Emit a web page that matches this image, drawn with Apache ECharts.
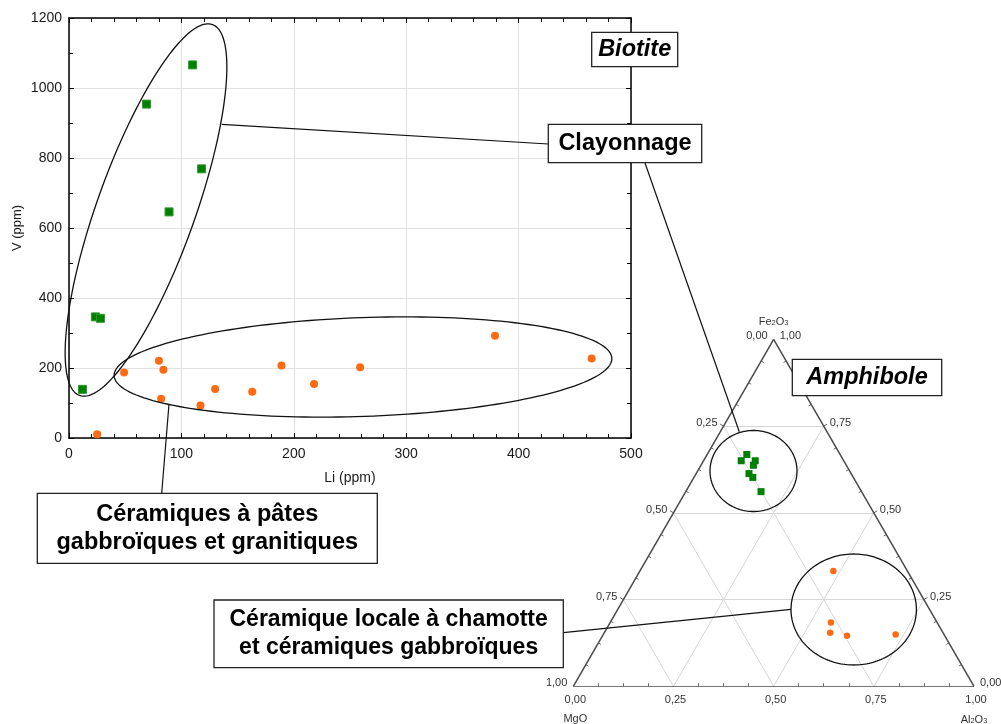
<!DOCTYPE html>
<html>
<head>
<meta charset="utf-8">
<script src="https://cdn.jsdelivr.net/npm/echarts@6/dist/echarts.min.js"></script>
<style>
  html, body { margin: 0; padding: 0; background: #fff; }
  #chart { width: 1001px; height: 724px; }
</style>
</head>
<body>
<div id="chart"></div>
<script>
// ---- Li / V (ppm) : clayonnage samples
const liClay = [110, 69, 118, 89, 23.5, 28, 12];
const vClay  = [1066, 954, 769, 646, 346, 342, 139];
// ---- Li / V (ppm) : céramiques à pâtes gabbroïques et granitiques
const liCer = [25, 49, 80, 84, 82, 117, 130, 163, 189, 218, 259, 379, 465];
const vCer  = [11, 187, 221, 195, 112, 93, 140, 132, 207, 154, 202, 292, 227];

// ---- Amphibole (fractions) : clayonnage
const feClay = [0.668, 0.650, 0.650, 0.637, 0.613, 0.602, 0.561];
const alClay = [0.099, 0.094, 0.129, 0.131, 0.132, 0.147, 0.188];
const mgClay = [0.233, 0.256, 0.221, 0.232, 0.255, 0.251, 0.251];
// ---- Amphibole (fractions) : céramique locale à chamotte et gabbroïques
const feLoc = [0.332, 0.184, 0.154, 0.146, 0.149];
const alLoc = [0.483, 0.551, 0.564, 0.610, 0.730];
const mgLoc = [0.185, 0.265, 0.282, 0.244, 0.121];

// ---- ternary tick values and labels
const ternTicks = [0, 0.25, 0.5, 0.75, 1];
const ternLabels = ['0,00', '0,25', '0,50', '0,75', '1,00'];

const FONT = '"Liberation Sans", Arial, Helvetica, sans-serif';
const SQ3 = Math.sqrt(3) / 2;
const GREEN = '#008000';
const ORANGE = '#ff6a13';

// ternary composition -> plane (x along MgO -> Al2O3, y toward Fe2O3)
function tern(al, fe, mg) {
  const s = al + fe + mg;
  const a = al / s, f = fe / s;
  return [a + f / 2, f * SQ3];
}
const zip = (xs, ys) => xs.map((x, i) => [x, ys[i]]);

// triangle outline, reference lines and edge ticks, in plane units
const outline = [
  { coords: [[0, 0], [1, 0]] },
  { coords: [[0, 0], [0.5, SQ3]] },
  { coords: [[1, 0], [0.5, SQ3]] }
];
const refLines = [];
[0.25, 0.5, 0.75].forEach(v => {
  refLines.push({ coords: [tern(0, v, 1 - v), tern(1 - v, v, 0)] });   // constant Fe2O3
  refLines.push({ coords: [tern(v, 0, 1 - v), tern(v, 1 - v, 0)] });   // constant Al2O3
  refLines.push({ coords: [tern(1 - v, 0, v), tern(0, 1 - v, v)] });   // constant MgO
});
const PX = 1 / 401;
const edgeTicks = [];
for (let k = 1; k < 16; k++) {
  const t = k / 16;
  const major = k % 4 === 0;
  const len = (major ? 4 : 3) * PX;
  const sgn = major ? -1 : 1; // majors point outward, minors inward
  let p = [t, 0];
  edgeTicks.push({ coords: [p, [p[0], p[1] + sgn * len]] });
  p = [t / 2, t * SQ3];
  edgeTicks.push({ coords: [p, [p[0] + sgn * 0.866 * len, p[1] - sgn * 0.5 * len]] });
  p = [1 - t / 2, t * SQ3];
  edgeTicks.push({ coords: [p, [p[0] - sgn * 0.866 * len, p[1] - sgn * 0.5 * len]] });
}

const chart = echarts.init(document.getElementById('chart'));

const axisTextStyle = { color: '#1a1a1a', fontSize: 14, fontFamily: FONT, formatter: v => String(v) };
const frameLine = { show: true, onZero: false, lineStyle: { color: '#000', width: 1.5 } };
const majorTick = { show: true, inside: true, length: 5, lineStyle: { color: '#000', width: 1 } };
const minorX = { show: true, splitNumber: 5, length: 4, lineStyle: { color: '#000', width: 1 } };
const minorY = { show: true, splitNumber: 2, length: 4, lineStyle: { color: '#000', width: 1 } };

chart.setOption({
  animation: false,
  backgroundColor: '#fff',
  grid: [
    { left: 69, top: 18, width: 562, height: 420, containLabel: false, outerBoundsMode: 'none' },
    { left: 573.3, top: 339.3, width: 400.7, height: 347, containLabel: false, outerBoundsMode: 'none' }
  ],
  xAxis: [
    {
      gridIndex: 0, type: 'value', min: 0, max: 500, interval: 100, position: 'bottom',
      name: 'Li (ppm)', nameLocation: 'middle', nameGap: 33, nameMoveOverlap: false,
      nameTextStyle: { color: '#1a1a1a', fontSize: 14, fontFamily: FONT },
      axisLine: frameLine, axisTick: majorTick, minorTick: minorX,
      axisLabel: Object.assign({ margin: 9 }, axisTextStyle),
      splitLine: { show: true, lineStyle: { color: '#e2e2e2', width: 1 } },
      minorSplitLine: { show: false }
    },
    {
      gridIndex: 0, type: 'value', min: 0, max: 500, interval: 100, position: 'top',
      axisLine: frameLine, axisTick: majorTick, minorTick: minorX,
      axisLabel: { show: false }, splitLine: { show: false }
    },
    { gridIndex: 1, type: 'value', min: 0, max: 1, show: false, splitLine: { show: false } }
  ],
  yAxis: [
    {
      gridIndex: 0, type: 'value', min: 0, max: 1200, interval: 200, position: 'left',
      name: 'V (ppm)', nameLocation: 'middle', nameGap: 45, nameRotate: 90, nameMoveOverlap: false,
      nameTextStyle: { color: '#1a1a1a', fontSize: 13, fontFamily: FONT },
      axisLine: frameLine, axisTick: majorTick, minorTick: minorY,
      axisLabel: Object.assign({ margin: 7 }, axisTextStyle),
      splitLine: { show: true, lineStyle: { color: '#e2e2e2', width: 1 } }
    },
    {
      gridIndex: 0, type: 'value', min: 0, max: 1200, interval: 200, position: 'right',
      axisLine: frameLine, axisTick: majorTick, minorTick: minorY,
      axisLabel: { show: false }, splitLine: { show: false }
    },
    { gridIndex: 1, type: 'value', min: 0, max: SQ3, show: false, splitLine: { show: false } }
  ],
  series: [
    {
      name: 'Clayonnage', type: 'scatter', xAxisIndex: 0, yAxisIndex: 0,
      symbol: 'rect', symbolSize: 8,
      itemStyle: { color: GREEN, borderColor: '#2f9a2f', borderWidth: 1, opacity: 1 },
      data: zip(liClay, vClay), z: 5
    },
    {
      name: 'Céramiques', type: 'scatter', xAxisIndex: 0, yAxisIndex: 0,
      symbol: 'circle', symbolSize: 8,
      itemStyle: { color: ORANGE, opacity: 1 },
      data: zip(liCer, vCer), z: 5
    },
    {
      type: 'lines', coordinateSystem: 'cartesian2d', xAxisIndex: 2, yAxisIndex: 2,
      polyline: false, silent: true, z: 1,
      lineStyle: { color: '#d6d6d6', width: 1, opacity: 1 },
      data: refLines
    },
    {
      type: 'lines', coordinateSystem: 'cartesian2d', xAxisIndex: 2, yAxisIndex: 2,
      polyline: false, silent: true, z: 2,
      lineStyle: { color: '#666', width: 1, opacity: 1 },
      data: edgeTicks
    },
    {
      type: 'lines', coordinateSystem: 'cartesian2d', xAxisIndex: 2, yAxisIndex: 2,
      polyline: false, silent: true, z: 3,
      lineStyle: { color: '#4a4a4a', width: 1.5, opacity: 1 },
      data: outline
    },
    {
      name: 'Clayonnage (amphibole)', type: 'scatter', xAxisIndex: 2, yAxisIndex: 2,
      symbol: 'rect', symbolSize: 7,
      itemStyle: { color: GREEN, opacity: 1 },
      data: feClay.map((f, i) => tern(alClay[i], f, mgClay[i])), z: 5
    },
    {
      name: 'Céramique locale (amphibole)', type: 'scatter', xAxisIndex: 2, yAxisIndex: 2,
      symbol: 'circle', symbolSize: 6.5,
      itemStyle: { color: ORANGE, opacity: 1 },
      data: feLoc.map((f, i) => tern(alLoc[i], f, mgLoc[i])), z: 5
    }
  ]
});

// ---- annotation layer: ternary labels, group ellipses, captions and leaders
const toPx = p => chart.convertToPixel({ gridIndex: 1 }, p);
const g = [];
const smallText = { fontSize: 11, fontFamily: FONT, fill: '#333' };

ternTicks.forEach((v, i) => {
  let p = toPx(tern(0, 1 - v, v));          // left edge: MgO
  g.push({ type: 'text', z: 20, x: p[0] - 6, y: p[1] - 3,
    style: Object.assign({ text: ternLabels[i], align: 'right', verticalAlign: 'middle' }, smallText) });
  p = toPx(tern(1 - v, v, 0));              // right edge: Fe2O3
  g.push({ type: 'text', z: 20, x: p[0] + 6, y: p[1] - 3,
    style: Object.assign({ text: ternLabels[i], align: 'left', verticalAlign: 'middle' }, smallText) });
  p = toPx(tern(v, 0, 1 - v));              // base: Al2O3
  g.push({ type: 'text', z: 20, x: p[0] + 2, y: p[1] + 14,
    style: Object.assign({ text: ternLabels[i], align: 'center', verticalAlign: 'middle' }, smallText) });
});

function compLabel(parts, p, dx, dy) {
  const rich = {
    n: { fontSize: 11, fontFamily: FONT, fill: '#333', lineHeight: 14, verticalAlign: 'bottom' },
    s: { fontSize: 7.5, fontFamily: FONT, fill: '#333', lineHeight: 11, verticalAlign: 'bottom' }
  };
  g.push({ type: 'text', z: 20, x: p[0] + dx, y: p[1] + dy,
    style: { text: parts, rich: rich, align: 'center', verticalAlign: 'middle' } });
}
compLabel('{n|Fe}{s|2}{n|O}{s|3}', toPx(tern(0, 1, 0)), 0, -19);
compLabel('{n|MgO}', toPx(tern(0, 0, 1)), 2, 31);
compLabel('{n|Al}{s|2}{n|O}{s|3}', toPx(tern(1, 0, 0)), 0, 32);

function ellipse(cx, cy, a, b, deg) {
  const th = deg * Math.PI / 180;
  const ux = Math.cos(th), uy = -Math.sin(th);
  const vx = Math.sin(th), vy = Math.cos(th);
  const pts = [];
  for (let k = 0; k < 180; k++) {
    const t = 2 * Math.PI * k / 180;
    const ca = a * Math.cos(t), sb = b * Math.sin(t);
    pts.push([cx + ca * ux + sb * vx, cy + ca * uy + sb * vy]);
  }
  return { type: 'polygon', z: 30, silent: true, shape: { points: pts },
    style: { fill: 'none', stroke: '#111', lineWidth: 1.3 } };
}
g.push(ellipse(146, 210, 197, 49, 70.3));
g.push(ellipse(363, 367, 249, 49.4, 2));
g.push(ellipse(753.5, 471, 43.5, 40.5, 0));
g.push(ellipse(853.7, 609.5, 62.7, 55.5, 0));

function leader(x1, y1, x2, y2) {
  g.push({ type: 'line', z: 30, silent: true, shape: { x1, y1, x2, y2 },
    style: { stroke: '#111', lineWidth: 1.2 } });
}
leader(221.7, 124.3, 548.3, 144);
leader(645, 163, 739.3, 431.7);
leader(169, 404, 161.7, 493.3);
leader(563.3, 632.7, 791, 609.3);

function caption(x, y, w, h, lines, size, italic) {
  g.push({ type: 'rect', z: 40, silent: true, shape: { x, y, width: w, height: h },
    style: { fill: '#fff', stroke: '#222', lineWidth: 1.3 } });
  g.push({ type: 'text', z: 41, silent: true, x: x + w / 2, y: y + h / 2,
    style: { text: lines.join('\n'), align: 'center', verticalAlign: 'middle',
      fontSize: size, fontWeight: 'bold', fontStyle: italic ? 'italic' : 'normal',
      fontFamily: FONT, fill: '#000', lineHeight: size * 1.2 } });
}
caption(591.7, 32.3, 86, 34.4, ['Biotite'], 23.5, true);
caption(548.3, 124.3, 153.4, 38.4, ['Clayonnage'], 23.5, false);
caption(792.3, 359.3, 149.4, 36.4, ['Amphibole'], 23.5, true);
caption(37.3, 493.3, 340, 70, ['Céramiques à pâtes', 'gabbroïques et granitiques'], 23.5, false);
caption(214, 600, 349.3, 67.7, ['Céramique locale à chamotte', 'et céramiques gabbroïques'], 23, false);

chart.setOption({ graphic: g });
</script>
</body>
</html>
